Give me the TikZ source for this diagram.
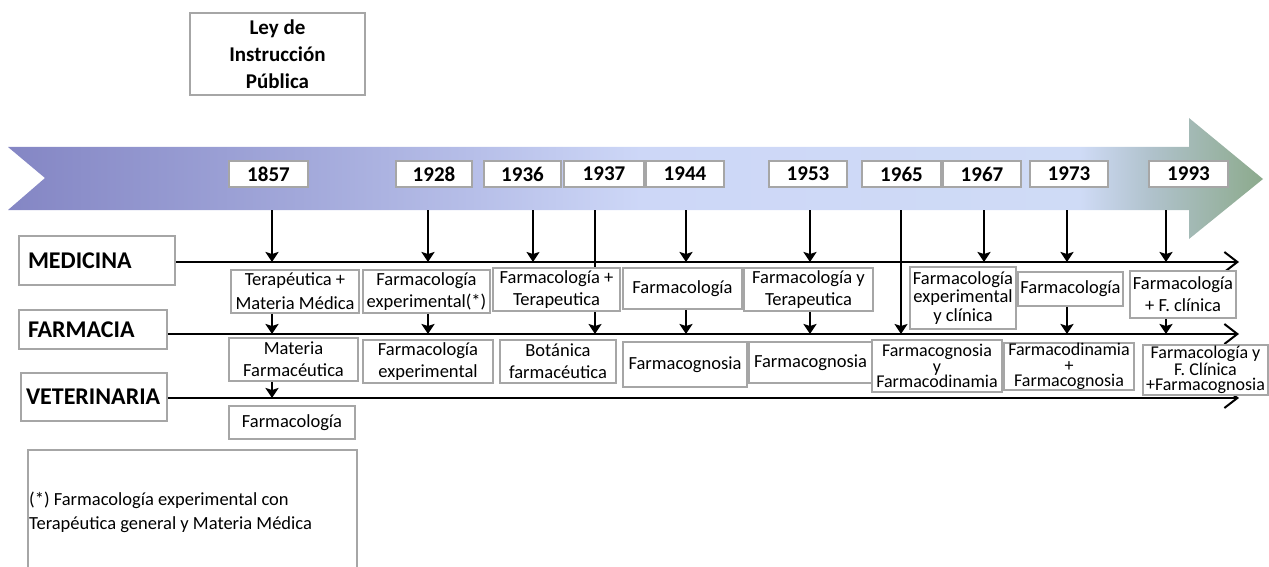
\documentclass[tikz,border=0pt]{standalone}
\usepackage{fontspec}
\setmainfont{Carlito}
\usetikzlibrary{arrows.meta}
\definecolor{c0}{HTML}{8486C4}
\definecolor{c1}{HTML}{A2A8DA}
\definecolor{c2}{HTML}{B6BEE8}
\definecolor{c3}{HTML}{CDD7F7}
\definecolor{c4}{HTML}{CFDBF6}
\definecolor{c5}{HTML}{B0C2CC}
\definecolor{c6}{HTML}{8CAA8C}
\definecolor{boxgray}{HTML}{A6A6A6}
\pgfdeclarehorizontalshading{bandshade}{100bp}{color(0bp)=(c0); color(25bp)=(c0); color(36.6bp)=(c1); color(43.4bp)=(c2); color(50.2bp)=(c3); color(67.7bp)=(c4); color(70.5bp)=(c5); color(75bp)=(c6); color(100bp)=(c6)}
\tikzset{
  box/.style={draw=boxgray, fill=white, line width=1.8pt, inner sep=0pt, align=center,
              font=\fontsize{18.5}{22}\selectfont},
  yr/.style={draw=boxgray, fill=white, line width=1.4pt, inner sep=0pt, minimum height=26pt,
             font=\bfseries\fontsize{21}{24}\selectfont},
  lbl/.style={draw=boxgray, fill=white, line width=1.8pt, inner ysep=0pt, align=left,
              font=\bfseries\fontsize{24}{26}\selectfont},
  tight/.style={font=\fontsize{18}{15.5}\selectfont},
  varr/.style={line width=2.5pt, -{Stealth[length=10pt,width=13pt,inset=2pt]}},
  varrthin/.style={line width=1.6pt, -{Stealth[length=10pt,width=13pt,inset=2pt]}},
  hline/.style={line width=2pt, -{Straight Barb[length=13pt,width=20pt,line width=2pt]}}
}
\begin{document}
\begin{tikzpicture}[x=1pt,y=-1pt]
\useasboundingbox (0,0) rectangle (1269,567);
% band arrow
\shade[shading=bandshade] (8,147) -- (1189,147) -- (1189,118) -- (1263,179) -- (1189,239)
  -- (1189,210) -- (8,210) -- (45,178) -- cycle;
% top box
\node[box, minimum width=175pt, minimum height=82pt, font=\bfseries\fontsize{21}{27}\selectfont]
  (ley) at (277.5,54) {Ley de\\Instrucción\\Pública};
% years
\node[yr, minimum width=79pt] (y1857) at (268.5,174) {1857};
\node[yr, minimum width=76pt] (y1928) at (434,174) {1928};
\node[yr, minimum width=77pt] (y1936) at (522.5,174) {1936};
\node[yr, minimum width=80pt] (y1937) at (604,174) {1937};
\node[yr, minimum width=78pt] (y1944) at (685,174) {1944};
\node[yr, minimum width=78pt] (y1953) at (808,174) {1953};
\node[yr, minimum width=79pt] (y1965) at (901.5,174) {1965};
\node[yr, minimum width=78pt] (y1967) at (982,174) {1967};
\node[yr, minimum width=78pt] (y1973) at (1069,174) {1973};
\node[yr, minimum width=79pt] (y1993) at (1188.5,174) {1993};
% row labels
\node[lbl, minimum height=49pt, text width=138pt, inner xsep=9pt] (med) at (97,260.5) {MEDICINA};
\node[lbl, minimum height=39pt, text width=130pt, inner xsep=9pt] (far) at (93,329.5) {FARMACIA};
\node[lbl, minimum height=48pt, text width=136pt, inner xsep=5pt] (vet) at (94,397) {VETERINARIA};
% line coordinates
\coordinate (mEnd) at (1239,262);
\coordinate (fEnd) at (1239,334);
\coordinate (vEnd) at (1239,398);
\coordinate (s1857) at (272,210);
\coordinate (s1928) at (428,210);
\coordinate (s1936) at (533,210);
\coordinate (s1937) at (595,210);
\coordinate (s1944) at (686,210);
\coordinate (s1953) at (810,210);
\coordinate (s1965) at (901,210);
\coordinate (s1967) at (984,210);
\coordinate (s1973) at (1067,210);
\coordinate (s1993) at (1166,210);
% horizontal lines
\draw[hline] (med.east |- mEnd) -- (mEnd);
\draw[hline] (far.east |- fEnd) -- (fEnd);
\draw[hline] (vet.east |- vEnd) -- (vEnd);
% vertical arrows from the band
\draw[varr] (s1857) -- (s1857 |- mEnd);
\draw[varr] (s1928) -- (s1928 |- mEnd);
\draw[varrthin] (s1936) -- (s1936 |- mEnd);
\draw[varrthin] (s1937) -- (s1937 |- fEnd);
\draw[varr] (s1944) -- (s1944 |- mEnd);
\draw[varr] (s1953) -- (s1953 |- mEnd);
\draw[varrthin] (s1965) -- (s1965 |- fEnd);
\draw[varr] (s1967) -- (s1967 |- mEnd);
\draw[varr] (s1973) -- (s1973 |- mEnd);
\draw[varr] (s1993) -- (s1993 |- mEnd);
% medicina row boxes
\node[box, minimum width=128pt, minimum height=43pt, font=\fontsize{18.5}{24}\selectfont] (m1) at (295,291.5) {Terapéutica +\\Materia Médica};
\node[box, minimum width=127pt, minimum height=43pt] (m2) at (426.5,291.5) {Farmacología\\experimental(*)};
\node[box, minimum width=127pt, minimum height=43pt] (m3) at (556.5,289.5) {Farmacología +\\Terapeutica};
\node[box, minimum width=119pt, minimum height=41pt] (m4) at (682.5,288.5) {Farmacología};
\node[box, minimum width=129pt, minimum height=43pt] (m5) at (808.5,289.5) {Farmacología y\\Terapeutica};
\node[box, minimum width=106pt, minimum height=62pt, font=\fontsize{18.5}{18.5}\selectfont] (m6) at (963,298) {Farmacología\\experimental\\y clínica};
\node[box, minimum width=105pt, minimum height=34pt] (m7) at (1070.5,289) {Farmacología};
\node[box, minimum width=106pt, minimum height=47pt] (m8) at (1183,294.5) {Farmacología\\+ F. clínica};
% arrows from medicina boxes to farmacia line
\draw[varr] (m1.south -| s1857) -- (s1857 |- fEnd);
\draw[varr] (m2.south -| s1928) -- (s1928 |- fEnd);
\draw[varr] (m4.south -| s1944) -- (s1944 |- fEnd);
\draw[varr] (m5.south -| s1953) -- (s1953 |- fEnd);
\draw[varr] (m7.south -| s1973) -- (s1973 |- fEnd);
\draw[varr] (m8.south -| s1993) -- (s1993 |- fEnd);
% farmacia row boxes
\node[box, minimum width=129pt, minimum height=43pt] (f1) at (293.5,359.5) {Materia\\Farmacéutica};
\node[box, minimum width=130pt, minimum height=43pt] (f2) at (428,361.5) {Farmacología\\experimental};
\node[box, minimum width=116pt, minimum height=43pt] (f3) at (558,361.5) {Botánica\\farmacéutica};
\node[box, minimum width=124pt, minimum height=45pt] (f4) at (685,364.5) {Farmacognosia};
\node[box, minimum width=123pt, minimum height=41pt] (f5) at (810.5,362.5) {Farmacognosia};
\node[box, tight, minimum width=130pt, minimum height=52pt] (f6) at (937,366) {Farmacognosia\\y\\Farmacodinamia};
\node[box, tight, minimum width=130pt, minimum height=47pt] (f7) at (1069,366.5) {Farmacodinamia\\+\\Farmacognosia};
\node[box, tight, minimum width=125pt, minimum height=50pt] (f8) at (1205.5,370) {Farmacología y\\F. Clínica\\+Farmacognosia};
% arrow to veterinaria line
\draw[varr] (f1.south -| s1857) -- (s1857 |- vEnd);
% veterinaria row
\node[box, minimum width=126pt, minimum height=33pt] (v1) at (292,422.5) {Farmacología};
% footnote
\node[box, minimum width=329pt, minimum height=150pt] (notebox) at (192.5,525) {};
\node[anchor=west, align=left, inner sep=0pt, font=\fontsize{18.5}{24}\selectfont] (note) at (29,512)
  {(*) Farmacología experimental con\\Terapéutica general y Materia Médica};
\end{tikzpicture}
\end{document}
